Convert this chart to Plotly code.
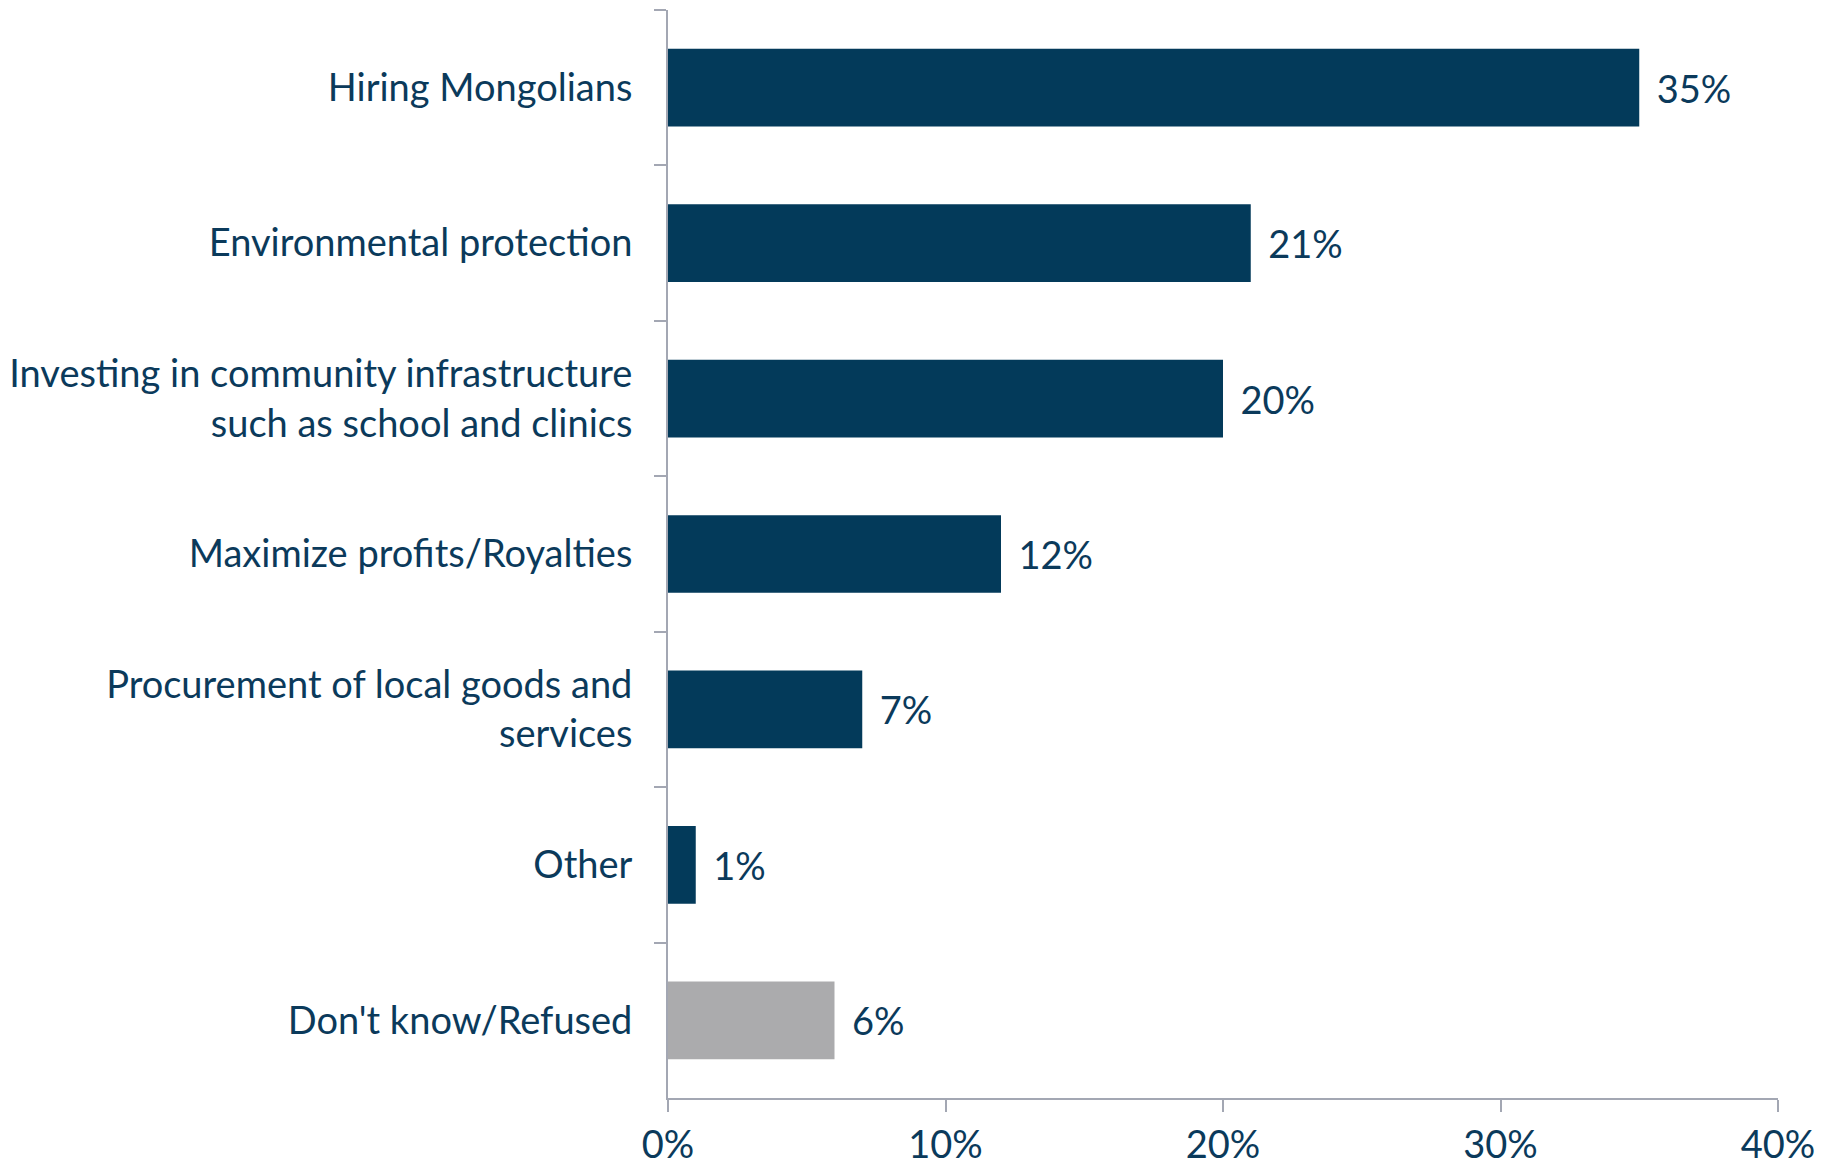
import plotly.graph_objects as go

categories = [
    "Hiring Mongolians",
    "Environmental protection",
    "Investing in community infrastructure<br>such as school and clinics",
    "Maximize profits/Royalties",
    "Procurement of local goods and<br>services",
    "Other",
    "Don't know/Refused",
]
values = [35, 21, 20, 12, 7, 1, 6]
bar_colors = ["#033A5A"] * 6 + ["#ABABAD"]
x_ticks = [0, 10, 20, 30, 40]
x_tick_labels = ["0%", "10%", "20%", "30%", "40%"]

TEXT = "#0B3A5B"
AXIS = "#A3A7B3"
FONT = "Lato, Liberation Sans, Arial, sans-serif"
FS = 38

fig = go.Figure(go.Bar(
    x=values, y=categories, orientation="h",
    marker=dict(color=bar_colors, line=dict(width=0)),
    width=0.5,
    text=[f"\u00a0\u2009{v}%" for v in values],
    textposition="outside",
    textfont=dict(size=FS, color=TEXT, family=FONT),
    cliponaxis=False,
))

fig.update_layout(
    width=1829, height=1161,
    margin=dict(l=660, r=59, t=2, b=71, autoexpand=False),
    plot_bgcolor="white", paper_bgcolor="white",
    showlegend=False,
    font=dict(family=FONT, color=TEXT, size=FS),
    bargap=0.5,
)
fig.update_xaxes(
    range=[0, 40], tickvals=x_ticks, ticktext=x_tick_labels,
    showgrid=False, zeroline=False, automargin=False,
    showline=True, linecolor=AXIS, linewidth=2,
    ticks="outside", ticklen=12, tickcolor=AXIS, tickwidth=2,
    tickfont=dict(size=FS, color=TEXT, family=FONT),
)
fig.update_yaxes(
    autorange="reversed", type="category", automargin=False,
    showgrid=False, zeroline=False,
    showline=True, linecolor=AXIS, linewidth=2,
    ticks="outside", ticklen=12, tickcolor=AXIS, tickwidth=2,
    tickson="boundaries",
    ticklabelstandoff=26,
    tickfont=dict(size=FS, color=TEXT, family=FONT),
)

fig.write_html("out.html")
